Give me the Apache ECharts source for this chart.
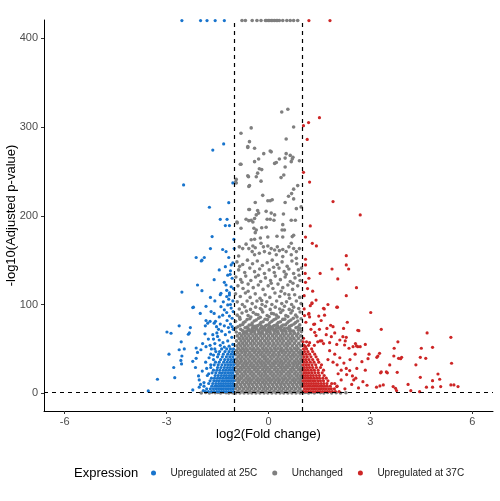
<!DOCTYPE html>
<html>
<head>
<meta charset="utf-8">
<script src="https://cdn.jsdelivr.net/npm/echarts@6/dist/echarts.min.js"></script>
<style>
  html, body { margin: 0; padding: 0; background: #fff; }
  #container { width: 500px; height: 501px; }
</style>
</head>
<body>
<div id="container"></div>
<script>
// axis ticks and thresholds
var xTicks = [-6, -3, 0, 3, 6];
var yTicks = [0, 100, 200, 300, 400];
var fcCut = 1;          // |log2FC| cut-off
var padjCut = 1.3;      // -log10(0.05)
var capY = 420;         // points with padj = 0 are drawn at the top

var seriesNames = ['Upregulated at 25C', 'Unchanged', 'Upregulated at 37C'];
var colors = ['#1874CD', '#7F7F7F', '#CD2626'];

// ---- capped points (top edge)
var blueTop = [-2.55, -2.0, -1.81, -1.57, -1.3];
var grayTop = [-0.78, -0.68, -0.48, -0.34, -0.22, -0.09, -0.05, 0.0, 0.04, 0.09, 0.13, 0.18, 0.23, 0.27, 0.32, 0.42, 0.54, 0.64, 0.74, 0.86];
var redTop = [1.19, 1.81];

// ---- unchanged genes
var grayHigh = [
  [0.39,317],[0.57,320],[0.52,286.5],[-0.51,299],[-0.81,293],[0.74,300],[-0.56,283.5],[-0.61,277],[-0.41,276],
  [0.05,273],[0.08,272],[-0.14,270],[0.52,270],[0.64,268],[0.72,266],[0.70,264],[0.67,261],[0.49,265],[0.32,264],
  [0.18,259],[0.23,260],[-0.29,264],[-0.41,261],[-0.81,258],[-0.27,253],[-0.2,252],[0.49,255],[0.91,262],[0.45,246],
  [0.37,243],[-0.32,248],[-0.36,244],[-0.22,239],[-0.59,244],[-0.95,241],[-0.97,238],[-0.56,234],[0.86,234],[0.74,230],
  [0.68,225],[0.59,222],[-0.17,223],[-0.02,217],[0.05,217],[0.11,218],[-0.39,215],[0.49,215],[0.74,219],[0.96,210],
  [0.82,208],[-0.56,207],[-0.32,206],[-0.29,203],[-0.36,201],[-0.07,205],[0.08,203],[0.18,201],[0.44,202],[-0.41,197],
  [-0.46,193],[-0.66,196],[-0.58,194.5],[-0.51,195],[-0.92,192],[-0.04,196],[0.05,196],[0.16,195],[0.67,195],[0.79,195],
  [0.42,190],[0.40,184],[0.47,184],[-0.43,186],[-0.36,184],[-0.39,181],[-0.2,186.5],[-0.07,187],[-0.81,186],[0.25,177],
  [0.42,176],[0.70,176.5],[0.74,178],[-0.02,176],[-0.24,175],[-0.41,173.5],[-0.51,173],[-0.61,278],[-0.83,258],[-0.61,245],
  [-0.58,233],[-0.95,237],[-0.93,193],[-0.58,207],
  [-0.66,168],[-0.86,165],[-0.76,163],[-0.58,163],[-0.46,166],[-0.39,164],[-0.48,159.6],[-0.41,156],[-0.22,169],[-0.15,165],
  [-0.02,166],[0.08,163],[0.18,161.5],[0.26,165],[0.32,160.7],[0.42,162],[0.52,159.6],[0.60,165],[0.67,169],[0.74,163],
  [0.82,159.6],[0.91,163],[-0.27,157.7],[-0.12,159.6],[0.03,157.7],[0.23,156],[0.42,154],[0.67,156],[0.82,152],[-0.88,154.7]
];
var grayMid = [
  [-0.93,148],[-0.76,145],[-0.62,150],[-0.47,146],[-0.33,149],[-0.18,144],[-0.04,147],[0.11,150],[0.26,145],[0.4,148],
  [0.55,143],[0.69,149],[0.83,146],[0.97,141],[-0.88,139],[-0.7,136],[-0.55,141],[-0.41,137],[-0.26,140],[-0.12,135],
  [0.02,139],[0.17,136],[0.31,141],[0.46,137],[0.6,140],[0.74,135],[0.88,139],[-0.96,131],[-0.82,128],[-0.67,132],
  [-0.52,127],[-0.38,131],[-0.23,126],[-0.09,130],[0.06,127],[0.2,132],[0.35,128],[0.49,131],[0.64,126],[0.78,130],
  [0.93,127],[-0.9,121],[-0.75,118],[-0.6,123],[-0.45,119],[-0.3,122],[-0.16,117],[-0.01,121],[0.13,118],[0.28,123],
  [0.42,119],[0.57,122],[0.71,117],[0.86,121],[-0.97,112],[-0.83,109],[-0.68,113],[-0.54,108],[-0.39,112],[-0.25,107],
  [-0.1,111],[0.04,108],[0.19,113],[0.33,109],[0.48,112],[0.62,107],[0.77,111],[0.92,108],[-0.92,103],[-0.77,100],
  [-0.63,104],[-0.48,101],[-0.34,104],[-0.19,100],[-0.05,103],[0.1,100],[0.24,104],[0.39,101],[0.53,103],[0.68,100],
  [0.82,104],[0.96,101],[-0.85,143],[-0.3,133],[0.15,142],[0.52,134],[-0.6,115],[0.08,124],[0.37,115],[0.72,124],
  [-0.2,104.5],[0.6,111],[-0.78,125],[0.9,133]
];
var grayUpper = [
  [-0.95,69],[-0.82,72],[-0.7,68.5],[-0.58,71],[-0.47,69.5],[-0.35,72.5],[-0.22,68],[-0.1,71.5],[0.02,69],[0.14,72],
  [0.27,68.5],[0.39,71],[0.51,69.5],[0.63,72.5],[0.76,68],[0.88,71],[0.97,69.5],[-0.9,75],[-0.76,77.5],[-0.63,74.5],
  [-0.5,77],[-0.38,75.5],[-0.25,78],[-0.13,74.5],[0.0,77],[0.12,75],[0.25,78],[0.37,74.5],[0.5,77],[0.62,75.5],
  [0.75,78],[0.87,74.5],[-0.97,81],[-0.84,83.5],[-0.69,80.5],[-0.55,84],[-0.42,81.5],[-0.29,84.5],[-0.16,80.5],[-0.03,83],
  [0.1,81],[0.22,84],[0.35,80.5],[0.48,83.5],[0.6,81],[0.73,84.5],[0.86,81.5],[0.96,84],[-0.92,88],[-0.78,90.5],
  [-0.6,87.5],[-0.45,91],[-0.31,88.5],[-0.17,91.5],[-0.04,87.5],[0.09,90],[0.23,88],[0.36,91],[0.51,87.5],[0.66,90.5],
  [0.8,88],[0.93,91.5],[-0.86,95],[-0.7,97.5],[-0.53,94.5],[-0.38,97],[-0.24,95.5],[-0.09,98],[0.05,94.5],[0.2,97],
  [0.33,95],[0.47,98],[0.61,94.5],[0.74,97],[0.89,95.5],
  [-0.76,70.5],[-0.52,70],[-0.28,70.3],[-0.04,70.8],[0.2,70.2],[0.45,70.6],[0.69,70.1],[0.93,73],
  [-0.96,73.5],[-0.69,73.8],[-0.44,73.2],[-0.19,73.6],[0.06,73.1],[0.31,73.5],[0.56,73.2],[0.81,73.8],
  [-0.83,76.5],[-0.57,76.8],[-0.31,76.3],[-0.06,76.7],[0.18,76.4],[0.43,76.9],[0.68,76.5],[0.92,77],
  [-0.74,79.5],[-0.48,79.2],[-0.22,79.8],[0.04,79.4],[0.29,79.7],[0.55,79.1],[0.8,79.6],
  [-0.63,83],[-0.36,82.6],[-0.1,83.4],[0.16,82.8],[0.42,83.2],[0.66,82.5],
  [-0.52,86],[-0.24,85.6],[0.02,86.2],[0.29,85.8],[0.57,86.4],[-0.85,85.5],[0.84,86],
  [-0.37,89],[0.15,89.5],[0.7,93],[-0.65,92.5],[-0.2,94],[0.42,93.5]
];
// dense core, one row per -log10 level
var grayCore = [
  [0.4,[-0.96,-0.84,-0.72,-0.6,-0.49,-0.37,-0.25,-0.13,-0.02,0.1,0.22,0.34,0.45,0.57,0.69,0.81,0.93]],
  [2.6,[-0.9,-0.78,-0.66,-0.55,-0.43,-0.31,-0.19,-0.08,0.04,0.16,0.28,0.39,0.51,0.63,0.75,0.87,0.98]],
  [5,[-0.97,-0.85,-0.73,-0.61,-0.5,-0.38,-0.26,-0.14,-0.03,0.09,0.21,0.33,0.44,0.56,0.68,0.8,0.92]],
  [7.4,[-0.91,-0.79,-0.67,-0.56,-0.44,-0.32,-0.2,-0.09,0.03,0.15,0.27,0.38,0.5,0.62,0.74,0.86,0.97]],
  [9.8,[-0.95,-0.83,-0.71,-0.59,-0.48,-0.36,-0.24,-0.12,-0.01,0.11,0.23,0.35,0.46,0.58,0.7,0.82,0.94]],
  [12.2,[-0.89,-0.77,-0.65,-0.54,-0.42,-0.3,-0.18,-0.07,0.05,0.17,0.29,0.4,0.52,0.64,0.76,0.88,0.98]],
  [14.6,[-0.96,-0.85,-0.72,-0.6,-0.49,-0.36,-0.25,-0.13,-0.01,0.1,0.22,0.33,0.45,0.57,0.7,0.81,0.93]],
  [17,[-0.9,-0.79,-0.66,-0.55,-0.43,-0.31,-0.19,-0.07,0.04,0.16,0.28,0.4,0.51,0.63,0.75,0.87,0.97]],
  [19.4,[-0.97,-0.84,-0.73,-0.61,-0.48,-0.37,-0.24,-0.13,-0.02,0.11,0.22,0.34,0.46,0.58,0.69,0.82,0.93]],
  [21.8,[-0.91,-0.78,-0.67,-0.54,-0.43,-0.3,-0.19,-0.08,0.05,0.16,0.28,0.39,0.52,0.63,0.76,0.87,0.98]],
  [24.2,[-0.95,-0.84,-0.71,-0.6,-0.49,-0.36,-0.25,-0.12,-0.01,0.1,0.23,0.34,0.45,0.58,0.69,0.81,0.94]],
  [26.6,[-0.89,-0.78,-0.66,-0.55,-0.42,-0.31,-0.18,-0.07,0.04,0.17,0.28,0.4,0.51,0.64,0.75,0.88,0.97]],
  [29,[-0.96,-0.83,-0.72,-0.6,-0.48,-0.37,-0.25,-0.13,-0.02,0.1,0.22,0.35,0.46,0.57,0.7,0.82,0.93]],
  [31.4,[-0.9,-0.77,-0.66,-0.54,-0.43,-0.31,-0.19,-0.08,0.05,0.16,0.29,0.4,0.52,0.63,0.75,0.86,0.98]],
  [33.8,[-0.96,-0.84,-0.72,-0.61,-0.49,-0.36,-0.24,-0.13,-0.01,0.11,0.22,0.34,0.45,0.58,0.7,0.81,0.92]],
  [36.2,[-0.9,-0.79,-0.67,-0.55,-0.42,-0.3,-0.19,-0.07,0.04,0.17,0.28,0.39,0.51,0.63,0.76,0.87,0.97]],
  [38.6,[-0.95,-0.83,-0.72,-0.6,-0.48,-0.37,-0.25,-0.12,-0.02,0.1,0.23,0.34,0.46,0.57,0.69,0.82,0.94]],
  [41,[-0.89,-0.78,-0.66,-0.54,-0.43,-0.31,-0.18,-0.08,0.05,0.16,0.28,0.4,0.52,0.64,0.75,0.87,0.98]],
  [43.4,[-0.96,-0.84,-0.71,-0.6,-0.49,-0.36,-0.24,-0.13,-0.01,0.11,0.22,0.33,0.46,0.58,0.7,0.81,0.93]],
  [45.8,[-0.9,-0.78,-0.67,-0.55,-0.42,-0.3,-0.19,-0.07,0.04,0.16,0.29,0.4,0.51,0.63,0.75,0.88,0.97]],
  [48.2,[-0.95,-0.83,-0.72,-0.61,-0.48,-0.37,-0.25,-0.13,-0.02,0.1,0.22,0.35,0.45,0.57,0.69,0.82,0.94]],
  [50.6,[-0.89,-0.77,-0.66,-0.54,-0.43,-0.31,-0.18,-0.07,0.05,0.17,0.28,0.39,0.52,0.64,0.76,0.87]],
  [53.4,[-0.93,-0.82,-0.71,-0.6,-0.48,-0.36,-0.24,-0.13,-0.01,0.11,0.22,0.34,0.46,0.57,0.7,0.83,0.95]],
  [56.2,[-0.87,-0.76,-0.65,-0.53,-0.42,-0.3,-0.19,-0.07,0.04,0.16,0.28,0.4,0.52,0.63,0.76,0.89]],
  [59,[-0.94,-0.81,-0.7,-0.59,-0.47,-0.36,-0.24,-0.12,-0.01,0.11,0.23,0.34,0.45,0.58,0.69,0.81,0.96]],
  [61.8,[-0.86,-0.75,-0.64,-0.53,-0.41,-0.3,-0.18,-0.06,0.05,0.17,0.29,0.4,0.52,0.64,0.75,0.88]],
  [64.6,[-0.92,-0.8,-0.69,-0.58,-0.46,-0.35,-0.23,-0.12,0.0,0.12,0.23,0.35,0.46,0.58,0.7,0.83,0.95]],
  [67.4,[-0.85,-0.74,-0.63,-0.52,-0.4,-0.29,-0.17,-0.06,0.06,0.17,0.29,0.41,0.52,0.64,0.76,0.87]],
  [70.2,[-0.75,-0.64,-0.52,-0.41,-0.3,-0.18,-0.07,0.05,0.16,0.28,0.39,0.51,0.62,0.74]],
  [73,[-0.6,-0.48,-0.36,-0.24,-0.13,-0.01,0.11,0.23,0.35,0.47,0.6]],
  [75.8,[-0.45,-0.33,-0.21,-0.09,0.03,0.15,0.27,0.39]]
];
// non-significant genes with larger fold change, sitting on the baseline
var grayBase = [
  [-1.98,0.3],[-1.85,0.8],[-1.74,0.2],[-1.66,1.0],[-1.57,0.5],[-1.49,0.9],[-1.41,0.3],[-1.33,1.1],[-1.25,0.6],[-1.17,0.2],
  [-1.09,0.9],[-1.03,0.4],[1.03,0.5],[1.1,1.0],[1.18,0.3],[1.26,0.8],[1.35,0.4],[1.44,1.1],[1.53,0.6],[1.63,0.2],
  [1.74,0.9],[1.86,0.4],[1.99,0.7],[2.12,0.3],[2.28,0.5]
];

// ---- upregulated at 25C
var blueSparse = [
  [-2.5,234.7],[-1.64,274],[-1.32,281],[-1.05,237],[-1.17,214.8],[-1.74,209.6],[-1.42,196],[-1.22,196],[-1.27,189],[-1.15,189],
  [-1.66,176.5],[-1.71,163],[-1.35,162],[-1.25,159.6],[-1.02,173.5],[-1.01,163],[-2.13,153],[-1.96,150],[-1.89,153],[-1.17,153],
  [-1.98,149],[-1.27,142.6],[-1.1,144.6],[-1.45,139],[-1.2,133],[-1.13,134],[-1.07,129.6],[-2.09,122],[-1.4,112.7],[-1.23,116],
  [-1.15,110.8],[-2.23,96.5],[-1.05,147],[-1.3,125],[-1.1,120],[-1.6,128],[-1.05,104],[-1.33,103],[-1.58,104],[-1.12,138],
  [-1.03,118],[-1.25,122],
  [-2.55,114],[-1.96,115.6],[-1.71,108],[-1.42,111],[-1.23,109],[-1.15,113],[-1.17,106],[-2.21,97],[-1.84,98],[-2.01,90],
  [-1.69,92],[-1.4,97.6],[-1.2,99.5],[-1.1,96],[-1.45,86],[-1.35,88],[-1.23,91],[-1.15,87],[-1.07,84.5],[-2.63,76],
  [-2.3,74],[-2.33,68],[-2.36,66.5],[-2.99,69],[-2.87,67.6],[-1.84,82],[-1.79,79],[-1.72,81],[-1.86,76],[-1.56,81],
  [-1.53,75],[-1.47,72],[-1.52,68],[-1.64,66],[-1.5,64],[-1.87,67],[-1.77,61],[-1.62,61],[-2.57,58],[-2.63,49],
  [-2.48,50],[-2.55,42],[-2.58,37],[-2.56,33],[-2.93,44],[-2.79,29],[-2.76,17.6],[-3.27,15.8],[-3.54,2.6],[-2.23,3.7],
  [-2.04,6.8],[-2.06,19.5],[-2.04,15],[-2.15,29],[-2.23,36],[-2.13,39.4],[-2.09,46],[-2.13,51],[-1.99,49],[-1.94,56],
  [-1.84,52.5],[-1.72,54],
  [-1.04,92],[-1.12,78],[-1.22,82],[-1.3,76],[-1.04,72],[-1.15,69],[-1.27,66],[-1.38,70],[-1.08,63],[-1.2,59],
  [-1.34,57],[-1.45,60],[-1.05,55],[-1.16,53],[-1.3,52],[-1.42,54],[-1.58,56],[-1.68,50],[-1.55,47],[-1.62,43],
  [-1.75,40],[-1.85,35],[-1.7,32],[-1.82,28],[-1.95,25],[-1.76,22],[-1.9,12],[-2.0,10],[-1.92,3],[-1.6,79],
  [-1.42,78],[-1.12,100],[-1.3,94],[-1.07,75],[-1.18,74],[-1.6,90]
];
var blueCore = [
  [2,[-1.03,-1.1,-1.17,-1.24,-1.31,-1.38,-1.45,-1.52,-1.6,-1.68,-1.77,-1.86]],
  [5,[-1.05,-1.12,-1.19,-1.26,-1.33,-1.4,-1.47,-1.54,-1.62,-1.71,-1.82]],
  [8,[-1.02,-1.09,-1.16,-1.23,-1.3,-1.37,-1.44,-1.51,-1.58,-1.67,-1.9]],
  [11,[-1.05,-1.12,-1.19,-1.26,-1.33,-1.4,-1.47,-1.55,-1.64,-1.76]],
  [14,[-1.02,-1.09,-1.16,-1.23,-1.3,-1.37,-1.45,-1.53,-1.61,-1.72]],
  [17,[-1.05,-1.12,-1.19,-1.26,-1.34,-1.42,-1.5,-1.59,-1.68]],
  [20,[-1.02,-1.09,-1.16,-1.24,-1.31,-1.39,-1.48,-1.57,-1.8]],
  [23,[-1.05,-1.12,-1.2,-1.28,-1.36,-1.44,-1.55,-1.66]],
  [26,[-1.02,-1.09,-1.17,-1.25,-1.33,-1.43,-1.52,-1.62]],
  [29,[-1.05,-1.13,-1.21,-1.3,-1.4,-1.5,-1.7]],
  [32,[-1.02,-1.1,-1.18,-1.27,-1.37,-1.48,-1.6]],
  [35,[-1.05,-1.13,-1.22,-1.32,-1.45,-1.56]],
  [38,[-1.02,-1.1,-1.19,-1.29,-1.41,-1.62]],
  [41,[-1.05,-1.14,-1.24,-1.36,-1.5]],
  [44,[-1.02,-1.1,-1.2,-1.33,-1.47,-1.7]],
  [47,[-1.06,-1.16,-1.28,-1.44]],
  [50,[-1.03,-1.12,-1.23,-1.38,-1.58]]
];

// ---- upregulated at 37C
var redSparse = [
  [1.50,310.5],[1.18,305],[1.03,301.5],[1.14,286],[1.03,249],[1.21,238],[1.90,216],[2.70,201],[1.23,188.5],[1.09,176],
  [1.29,169],[1.41,166],[2.29,155],[1.09,151],[1.09,144.6],[2.29,144.6],[2.36,140],[1.87,140],[1.52,135],[1.19,129.6],
  [1.09,125],[2.04,128.8],[2.59,119],[2.29,110],[1.28,101],[1.23,98.7],[2.01,97],[1.64,95],[1.65,88],[3.01,91],
  [1.06,87.5],[1.19,90],[1.21,86],[2.32,80],[1.36,78],[1.72,73],[1.90,75],[2.63,71],[2.29,63],[2.26,59],
  [3.32,72],[4.67,68],[5.37,63],[2.56,56],[2.63,52.5],[2.70,52.5],[2.01,55],[1.52,59],[1.62,56],[1.80,57],
  [3.81,58],[3.27,45],[3.22,42],[3.19,40.5],[2.96,44],[2.93,39],[3.69,42],[3.89,39],[3.92,40.5],[4.50,50.7],
  [4.83,51.8],[4.63,39.4],[4.47,40.5],[4.34,32],[5.39,33.8],[4.99,21.7],[5.04,15.8],[4.83,14.2],[4.47,18],[3.30,23],
  [3.50,23],[3.79,23.6],[4.11,10],[3.67,7.5],[3.74,5.6],[3.77,3],[3.18,6.8],[3.28,8.2],[3.38,9.4],[4.65,6.8],
  [4.83,6.8],[5.07,7.5],[5.37,9.4],[5.46,9.4],[5.58,7.5],[4.45,1.8],[4.19,2.9],[2.78,13],[2.57,17],[2.51,15],
  [2.47,19.5],[2.14,26],[2.29,28],[2.39,25.5],[2.14,15],[2.01,7.5],[1.95,11],[2.02,32],[2.22,34],
  [1.33,77.7],[1.83,76.6],[2.21,73],[2.66,70.5],[1.36,68.7],[1.21,57],[1.45,58],[1.57,59],[1.03,62],[1.09,52.5],
  [1.85,63.8],[2.19,63.8],[2.24,54.4],[2.37,50.7],[2.49,52.5],[2.59,53.3],[2.75,35.6],[3.57,31.9],[3.70,50.7],[3.83,39.4],
  [3.32,24],[3.47,24],[1.18,89],[1.48,87],[1.62,95.8],[2.03,97],[1.28,102],
  [1.05,110],[1.15,118],[1.08,135],[1.3,115],[1.4,105],[1.75,100],[1.55,82],[1.7,66],[1.95,68],[2.1,60],
  [1.8,48],[1.95,44],[2.1,40],[1.75,38],[1.9,35],[2.05,22],[2.3,21],[2.6,28],[2.85,26],[2.45,10],
  [2.65,6],[2.9,9],[2.25,5],[1.4,65],[1.25,72],[1.1,80],[1.05,95],[1.5,72],[2.4,38],[2.55,44],[2.85,55]
];
var redCore = [
  [2,[1.03,1.1,1.17,1.24,1.31,1.38,1.45,1.52,1.59,1.66,1.73,1.8,1.88,1.97,2.08]],
  [5,[1.06,1.13,1.2,1.27,1.34,1.41,1.48,1.55,1.62,1.69,1.77,1.85,1.94]],
  [8,[1.02,1.09,1.16,1.23,1.3,1.37,1.44,1.51,1.58,1.65,1.73,1.82,2.02]],
  [11,[1.05,1.12,1.19,1.26,1.33,1.4,1.47,1.55,1.63,1.72,1.86]],
  [14,[1.02,1.09,1.16,1.23,1.3,1.37,1.45,1.53,1.62,1.75]],
  [17,[1.05,1.12,1.19,1.26,1.34,1.42,1.5,1.6,1.7]],
  [20,[1.02,1.09,1.16,1.24,1.32,1.41,1.5,1.64]],
  [23,[1.05,1.12,1.2,1.28,1.37,1.47,1.58]],
  [26,[1.02,1.09,1.17,1.26,1.35,1.46,1.62]],
  [29,[1.05,1.13,1.21,1.3,1.41,1.53]],
  [32,[1.02,1.1,1.18,1.28,1.39,1.56]],
  [35,[1.05,1.13,1.23,1.34,1.48]],
  [38,[1.02,1.1,1.19,1.3,1.45]],
  [41,[1.05,1.14,1.25,1.4]],
  [44,[1.02,1.11,1.21,1.36]],
  [47,[1.06,1.16,1.3]],
  [50,[1.03,1.12,1.27]],
  [54,[1.05,1.18,1.35]],
  [58,[1.02,1.12]]
];

function rows(list) {
  var out = [];
  list.forEach(function (r) {
    r[1].forEach(function (x) { out.push([x, r[0]]); });
  });
  return out;
}
function capped(xs) {
  return xs.map(function (x) { return [x, capY]; });
}

var grayData = [].concat(capped(grayTop), grayHigh, grayMid, grayUpper, rows(grayCore), grayBase);
var blueData = [].concat(capped(blueTop), blueSparse, rows(blueCore));
var redData = [].concat(capped(redTop), redSparse, rows(redCore));

var font = 'Liberation Sans, Arial, Helvetica, sans-serif';
var myChart = echarts.init(document.getElementById('container'));
var option = {
  animation: false,
  textStyle: { fontFamily: font },
  title: {
    text: 'Expression',
    left: 69,
    top: 462,
    textStyle: { fontSize: 13, fontWeight: 'normal', color: '#000', fontFamily: font }
  },
  legend: {
    data: seriesNames,
    left: 146,
    top: 463,
    icon: 'circle',
    itemWidth: 24,
    itemHeight: 5,
    itemGap: 15,
    textStyle: { fontSize: 10, color: '#1a1a1a', fontFamily: font }
  },
  grid: { left: 44, right: 7, top: 20, bottom: 90, containLabel: false, outerBoundsMode: 'none' },
  xAxis: {
    type: 'value',
    min: -6.61,
    max: 6.61,
    name: 'log2(Fold change)',
    nameLocation: 'middle',
    nameGap: 17,
    nameMoveOverlap: false,
    nameTextStyle: { fontSize: 13, color: '#000', fontFamily: font },
    axisLine: { show: true, onZero: false, lineStyle: { color: '#000', width: 1 } },
    axisTick: { show: true, length: 3, customValues: xTicks, lineStyle: { color: '#333' } },
    axisLabel: { customValues: xTicks, color: '#4d4d4d', fontSize: 11, margin: 5 },
    splitLine: { show: false }
  },
  yAxis: {
    type: 'value',
    min: -20,
    max: 420.6,
    name: '-log10(Adjusted p-value)',
    nameLocation: 'middle',
    nameGap: 26,
    nameMoveOverlap: false,
    nameTextStyle: { fontSize: 13, color: '#000', fontFamily: font },
    axisLine: { show: true, onZero: false, lineStyle: { color: '#000', width: 1 } },
    axisTick: { show: true, length: 3, customValues: yTicks, lineStyle: { color: '#333' } },
    axisLabel: { customValues: yTicks, color: '#4d4d4d', fontSize: 11, margin: 6 },
    splitLine: { show: false }
  },
  series: [
    {
      name: seriesNames[1], type: 'scatter', data: grayData, symbolSize: 3.6,
      itemStyle: { color: colors[1], opacity: 1 }, clip: true, z: 2
    },
    {
      name: seriesNames[0], type: 'scatter', data: blueData, symbolSize: 3.2,
      itemStyle: { color: colors[0], opacity: 1 }, clip: true, z: 3
    },
    {
      name: seriesNames[2], type: 'scatter', data: redData, symbolSize: 3.2,
      itemStyle: { color: colors[2], opacity: 1 }, clip: true, z: 3
    },
    {
      type: 'scatter', data: [], z: 10, silent: true,
      markLine: {
        silent: true,
        symbol: 'none',
        label: { show: false },
        lineStyle: { color: '#000', type: [4, 4], width: 1.2 },
        data: [{ xAxis: -fcCut }, { xAxis: fcCut }, { yAxis: padjCut }]
      }
    }
  ]
};
myChart.setOption(option);
</script>
</body>
</html>
